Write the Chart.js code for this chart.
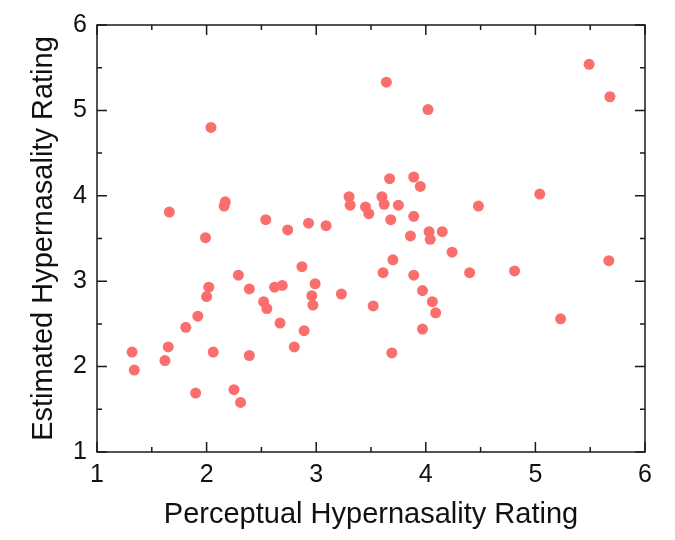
<!DOCTYPE html>
<html>
<head>
<meta charset="utf-8">
<script src="https://cdn.jsdelivr.net/npm/chart.js@4/dist/chart.umd.min.js"></script>
<style>
  html, body { margin: 0; padding: 0; background: #fff; }
  #wrap { width: 675px; height: 540px; }
</style>
</head>
<body>
<div id="wrap"><canvas id="c" width="675" height="540"></canvas></div>
<script>
const perceptual = [
  2.04, 1.66, 2.17, 2.16, 1.99, 2.54, 2.74, 2.93, 3.09, 3.30, 3.31, 3.45,
  2.87, 2.29, 2.02, 2.00, 2.39, 2.52, 2.55, 2.62, 2.69, 2.96, 2.99, 2.97,
  3.23, 2.67, 2.89, 2.80, 1.92, 1.81, 1.65, 1.32, 1.62, 1.34, 2.06, 2.39,
  1.90, 2.25, 2.31,
  3.64, 4.02, 3.67, 3.89, 3.95, 3.48, 3.60, 3.62, 3.75, 3.68, 3.89, 4.48,
  3.86, 4.03, 4.04, 4.15, 4.24, 3.70, 3.61, 3.89, 4.40, 3.97, 4.06, 4.09,
  3.52, 3.97, 3.69,
  5.49, 5.68, 5.04, 4.81, 5.67, 5.23
];
const estimated = [
  4.80, 3.81, 3.93, 3.88, 3.51, 3.72, 3.60, 3.68, 3.65, 3.99, 3.89, 3.87,
  3.17, 3.07, 2.93, 2.82, 2.91, 2.76, 2.68, 2.93, 2.95, 2.83, 2.97, 2.72,
  2.85, 2.51, 2.42, 2.23, 2.59, 2.46, 2.23, 2.17, 2.07, 1.96, 2.17, 2.13,
  1.69, 1.73, 1.58,
  5.33, 5.01, 4.20, 4.22, 4.11, 3.79, 3.99, 3.90, 3.89, 3.72, 3.76, 3.88,
  3.53, 3.58, 3.49, 3.58, 3.34, 3.25, 3.10, 3.07, 3.10, 2.89, 2.76, 2.63,
  2.71, 2.44, 2.16,
  5.54, 5.16, 4.02, 3.12, 3.24, 2.56
];
const xTickValues = [1, 2, 3, 4, 5, 6];
const yTickValues = [1, 2, 3, 4, 5, 6];
const xTitle = 'Perceptual Hypernasality Rating';
const yTitle = 'Estimated Hypernasality Rating';

const points = perceptual.map((x, i) => ({ x: x, y: estimated[i] }));

const FONT = '"Liberation Sans", Arial, sans-serif';

const framePlugin = {
  id: 'frame',
  afterDatasetsDraw(chart) {
    const { ctx, chartArea: a, scales } = chart;
    const xs = scales.x, ys = scales.y;
    ctx.save();
    ctx.strokeStyle = '#1a1a1a';
    ctx.lineWidth = 1.5;
    ctx.strokeRect(a.left, a.top, a.right - a.left, a.bottom - a.top);
    ctx.beginPath();
    for (let v = 1; v <= 6.0001; v += 0.5) {
      const major = Math.abs(v - Math.round(v)) < 1e-6;
      const len = major ? 10 : 5;
      const px = xs.getPixelForValue(v);
      ctx.moveTo(px, a.bottom); ctx.lineTo(px, a.bottom - len);
      ctx.moveTo(px, a.top); ctx.lineTo(px, a.top + len);
      const py = ys.getPixelForValue(v);
      ctx.moveTo(a.left, py); ctx.lineTo(a.left + len, py);
      ctx.moveTo(a.right, py); ctx.lineTo(a.right - len, py);
    }
    ctx.stroke();
    ctx.restore();
  }
};

new Chart(document.getElementById('c'), {
  type: 'scatter',
  data: {
    datasets: [{
      data: points,
      backgroundColor: 'rgb(250,110,110)',
      borderWidth: 0,
      pointRadius: 5.5,
      pointHoverRadius: 5.5
    }]
  },
  options: {
    responsive: false,
    animation: false,
    devicePixelRatio: 1,
    layout: { padding: { left: 0, right: 30, top: 25, bottom: 0 } },
    plugins: { legend: { display: false }, tooltip: { enabled: false } },
    scales: {
      x: {
        type: 'linear',
        min: 1, max: 6,
        afterBuildTicks(scale) { scale.ticks = xTickValues.map(v => ({ value: v })); },
        afterFit(scale) { scale.height = 88; },
        grid: { display: false, drawTicks: false },
        border: { display: false },
        ticks: {
          color: '#111',
          font: { family: FONT, size: 25 },
          padding: 8,
          maxRotation: 0
        },
        title: {
          display: true, text: xTitle, color: '#111',
          font: { family: FONT, size: 29 },
          padding: { top: 0, bottom: 8 }
        }
      },
      y: {
        type: 'linear',
        min: 1, max: 6,
        afterBuildTicks(scale) { scale.ticks = yTickValues.map(v => ({ value: v })); },
        afterFit(scale) { scale.width = 97; },
        grid: { display: false, drawTicks: false },
        border: { display: false },
        ticks: {
          color: '#111',
          font: { family: FONT, size: 25 },
          padding: 10
        },
        title: {
          display: true, text: yTitle, color: '#111',
          font: { family: FONT, size: 29 },
          padding: { top: 27, bottom: 0 }
        }
      }
    }
  },
  plugins: [framePlugin]
});
</script>
</body>
</html>
